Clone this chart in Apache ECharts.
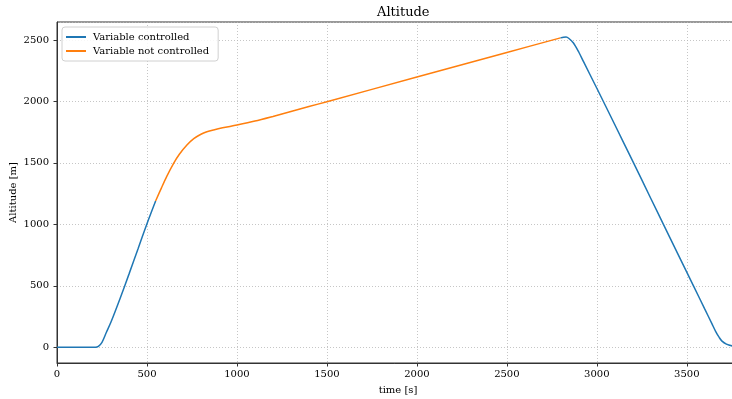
<!DOCTYPE html>
<html>
<head>
<meta charset="utf-8">
<script src="https://cdn.jsdelivr.net/npm/echarts@6/dist/echarts.min.js"></script>
<style>html,body{margin:0;padding:0;background:#fff}#c{width:732px;height:399px}</style>
</head>
<body>
<div id="c"></div>
<script>
// Controlled segments (null separates the two parts)
const ctrlTime = [0, 100, 200, 214, 230, 250, 274, 300, 350, 400, 450, 500, 548, null,
  2798, 2815, 2829, 2845, 2870, 2900, 2926, 3000, 3100, 3204, 3300, 3370, 3450, 3537, 3600, 3640, 3660, 3680, 3694, 3720, 3752, 3790];
const ctrlAlt = [0, 0, 0, 0, 8, 40, 120, 205, 395, 595, 800, 1005, 1190, null,
  2517, 2522, 2523, 2512, 2475, 2400, 2323, 2107, 1810, 1500, 1210, 1000, 760, 500, 310, 190, 130, 80, 52, 25, 11, 5];
// Not controlled segment
const freeTime = [548, 580, 610, 648, 680, 722, 760, 800, 833, 870, 920, 1000, 1100, 1200, 1300, 1400, 1500, 2000, 2500, 2798];
const freeAlt = [1190, 1295, 1390, 1496, 1570, 1645, 1697, 1733, 1753, 1768, 1785, 1808, 1840, 1878, 1918, 1958, 1998, 2198, 2398, 2517];

const seriesNames = ['Variable controlled', 'Variable not controlled'];
const titleText = 'Altitude';
const xName = 'time [s]';
const yName = 'Altitude [m]';

const pair = (ts, vs) => ts.map((t, i) => (t === null ? [null, null] : [t, vs[i]]));

const font = 'DejaVu Serif';
const gridLine = { show: true, lineStyle: { type: [1, 2], color: '#b8b8b8', width: 0.8 } };
const chart = echarts.init(document.getElementById('c'));
chart.setOption({
  animation: false,
  backgroundColor: '#fff',
  title: {
    text: titleText, left: 372, top: 1,
    textStyle: { fontFamily: font, fontSize: 13, fontWeight: 'normal', color: '#000' }
  },
  legend: {
    orient: 'vertical', left: 62, top: 27,
    data: seriesNames.map(n => ({ name: n, icon: 'rect' })),
    itemWidth: 20, itemHeight: 2, itemGap: 4,
    padding: [5, 9, 5, 4],
    borderColor: '#d0d0d0', borderWidth: 1, borderRadius: 3,
    backgroundColor: 'rgba(255,255,255,0.85)',
    textStyle: { fontFamily: font, fontSize: 10, color: '#000', padding: [0, 0, 0, 2] }
  },
  grid: {
    left: 57, top: 22, width: 682, height: 341,
    outerBoundsMode: 'none', containLabel: false,
    show: true, borderColor: '#333', borderWidth: 1
  },
  xAxis: {
    type: 'value', min: 0, max: 3790, splitNumber: 7,
    name: xName, nameLocation: 'middle', nameGap: 22, nameMoveOverlap: false,
    nameTextStyle: { fontFamily: font, fontSize: 10, color: '#000' },
    axisLine: { show: true, onZero: false, lineStyle: { color: '#333' } },
    axisTick: { show: true, length: 3.5, inside: false, lineStyle: { color: '#333' } },
    axisLabel: { fontFamily: font, fontSize: 10, color: '#000', margin: 6, showMaxLabel: false, formatter: v => String(v) },
    splitLine: gridLine
  },
  yAxis: {
    type: 'value', min: -128, max: 2646, splitNumber: 5,
    name: yName, nameLocation: 'middle', nameGap: 39, nameRotate: 90, nameMoveOverlap: false,
    nameTextStyle: { fontFamily: font, fontSize: 10, color: '#000' },
    axisLine: { show: true, onZero: false, lineStyle: { color: '#333' } },
    axisTick: { show: true, length: 3.5, lineStyle: { color: '#333' } },
    axisLabel: { fontFamily: font, fontSize: 10, color: '#000', margin: 8, showMinLabel: false, showMaxLabel: false, formatter: v => String(v) },
    splitLine: gridLine
  },
  series: [
    {
      name: seriesNames[0], type: 'line', data: pair(ctrlTime, ctrlAlt),
      showSymbol: false, symbol: 'none', smooth: 0.3, connectNulls: false,
      lineStyle: { color: '#1f77b4', width: 1.5 }, itemStyle: { color: '#1f77b4' }, z: 3
    },
    {
      name: seriesNames[1], type: 'line', data: pair(freeTime, freeAlt),
      showSymbol: false, symbol: 'none', smooth: 0.3,
      lineStyle: { color: '#ff7f0e', width: 1.5 }, itemStyle: { color: '#ff7f0e' }, z: 2
    }
  ]
});
</script>
</body>
</html>
